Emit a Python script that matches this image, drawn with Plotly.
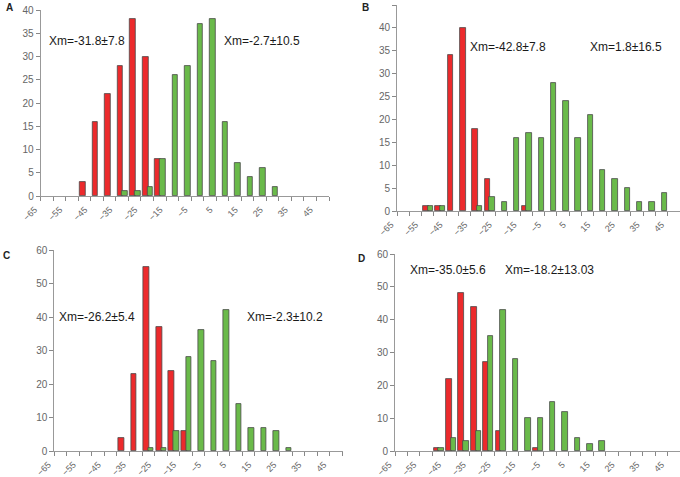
import plotly.graph_objects as go

# bin lower edges (category values)
bins = [-65, -60, -55, -50, -45, -40, -35, -30, -25, -20, -15, -10,
        -5, 0, 5, 10, 15, 20, 25, 30, 35, 40, 45]
tick_labels = ["−65", "−55", "−45", "−35", "−25", "−15", "−5", "5", "15", "25", "35", "45"]

A_red = [0, 0, 0, 3, 16, 22, 28, 38, 30, 8, 0, 0, 0, 0, 0, 0, 0, 0, 0, 0, 0, 0, 0]
A_green = [0, 0, 0, 0, 0, 0, 1, 1, 2, 8, 26, 28, 37, 38, 16, 7, 4, 6, 2, 0, 0, 0, 0]
B_red = [0, 0, 1, 1, 34, 40, 18, 7, 0, 0, 1, 0, 0, 0, 0, 0, 0, 0, 0, 0, 0, 0, 0]
B_green = [0, 0, 1, 1, 0, 0, 1, 3, 2, 16, 17, 16, 28, 24, 16, 21, 9, 7, 5, 2, 2, 4, 0]
C_red = [0, 0, 0, 0, 0, 4, 23, 55, 37, 24, 6, 0, 0, 0, 0, 0, 0, 0, 0, 0, 0, 0, 0]
C_green = [0, 0, 0, 0, 0, 0, 0, 1, 1, 6, 28, 36, 27, 42, 14, 7, 7, 6, 1, 0, 0, 0, 0]
D_red = [0, 0, 0, 1, 22, 48, 44, 27, 6, 0, 0, 1, 0, 0, 0, 0, 0, 0, 0, 0, 0, 0, 0]
D_green = [0, 0, 0, 1, 4, 3, 6, 35, 43, 28, 10, 10, 15, 12, 4, 2, 3, 0, 0, 0, 0, 0, 0]

panel_letters = ["A", "B", "C", "D"]
annot_A = ["Xm=-31.8±7.8", "Xm=-2.7±10.5"]
annot_B = ["Xm=-42.8±7.8", "Xm=1.8±16.5"]
annot_C = ["Xm=-26.2±5.4", "Xm=-2.3±10.2"]
annot_D = ["Xm=-35.0±5.6", "Xm=-18.2±13.03"]

W, H = 680, 477
RED = "#ec2a2c"
GREEN = "#6aba4a"
EDGE = "#4a4a4a"
FONT = "Arial, Liberation Sans"

fig = go.Figure()

panels = [
    # (red, green, xdomain px, y top px, y base px, ymax, dtick)
    (A_red, A_green, (40.7, 329), 10, 196, 40, 5),
    (B_red, B_green, (397, 680), 5, 211, 45, 5),
    (C_red, C_green, (54.3, 342.5), 250, 451, 60, 10),
    (D_red, D_green, (395, 680), 254, 451, 60, 10),
]

major_vals = [v for v in bins] + [50]
tick_text = []
for v in major_vals:
    lab = ""
    for t in tick_labels:
        if t.replace("−", "-") == str(v):
            lab = t
    tick_text.append(lab)

for i, (red, green, xd, ytop, ybase, ymax, dt) in enumerate(panels):
    n = "" if i == 0 else str(i + 1)
    xa, ya = "x" + n, "y" + n
    for vals, col, off, wd in [(red, RED, 0.6, 2.3), (green, GREEN, 2.5, 2.2)]:
        xs = [b for b, v in zip(bins, vals) if v > 0]
        ys = [v for v in vals if v > 0]
        fig.add_trace(go.Bar(
            x=xs, y=ys, xaxis=xa, yaxis=ya, offset=off, width=wd,
            marker=dict(color=col, line=dict(color=EDGE, width=0.8)),
            showlegend=False, hoverinfo="x+y"))
    fig.layout["xaxis" + n] = dict(
        domain=[xd[0] / W, min(xd[1] / W, 1.0)], range=[-65, 50],
        anchor=ya, tickmode="array", tickvals=major_vals, ticktext=tick_text,
        tickangle=-45, ticks="outside", ticklen=4, tickcolor="#888",
        ticklabelshift=-6, ticklabelstandoff=0,
        showline=True, linecolor="#999", linewidth=1, showgrid=False,
        zeroline=False, tickfont=dict(size=9, color="#666", family=FONT),
        fixedrange=True)
    fig.layout["yaxis" + n] = dict(
        domain=[1 - ybase / H, 1 - ytop / H], range=[0, ymax], dtick=dt,
        anchor=xa, ticks="outside", ticklen=4, tickcolor="#888",
        showline=True, linecolor="#999", linewidth=1, showgrid=False,
        zeroline=False, tickfont=dict(size=10, color="#666", family=FONT),
        fixedrange=True)

annotations = []
letter_pos = [(9, 7), (365, 7), (6, 255), (361, 258)]
for L, (px, py) in zip(panel_letters, letter_pos):
    annotations.append(dict(text="<b>" + L + "</b>", x=px / W, y=1 - py / H, xref="paper",
                            yref="paper", xanchor="center", yanchor="middle", showarrow=False,
                            font=dict(size=10, color="#222", family=FONT)))
ann_texts = annot_A + annot_B + annot_C + annot_D
ann_pos = [(47, 41), (222, 41), (468, 47), (588, 47), (57, 317), (245, 317), (408, 270), (503, 270)]
for t, (px, py) in zip(ann_texts, ann_pos):
    annotations.append(dict(text=t, x=px / W, y=1 - py / H, xref="paper", yref="paper",
                            xanchor="left", yanchor="middle", showarrow=False,
                            font=dict(size=12, color="#1a1a1a", family=FONT)))

fig.update_layout(width=W, height=H, margin=dict(l=0, r=0, t=0, b=0, autoexpand=False),
                  paper_bgcolor="white", plot_bgcolor="white",
                  barmode="overlay", annotations=annotations, bargap=0)
fig.write_html("out.html", config={"displayModeBar": False},
               post_script="document.body.style.margin='0px';document.body.style.overflow='hidden';")
